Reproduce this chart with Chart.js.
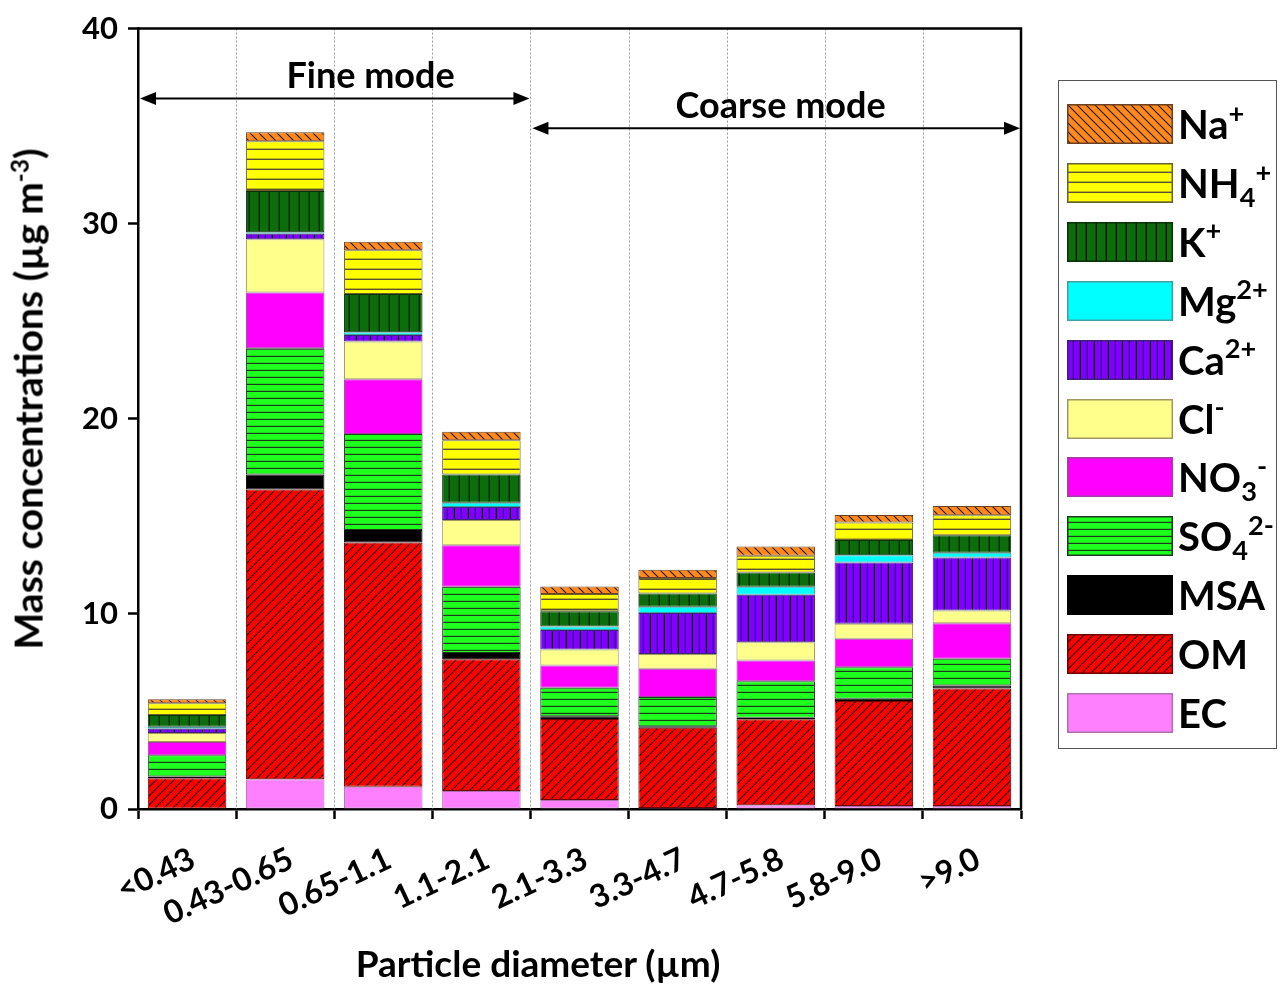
<!DOCTYPE html>
<html>
<head>
<meta charset="utf-8">
<script src="https://cdn.jsdelivr.net/npm/chart.js@4.4.1/dist/chart.umd.min.js"></script>
<style>
  html, body { margin: 0; padding: 0; background: #fff; }
  #wrap { position: relative; width: 1279px; height: 987px; font-family: Lato, "Open Sans", sans-serif; font-weight: 700; color: #000; }
  #chart { position: absolute; left: 0; top: 0; }
  .ytitle { position: absolute; left: 28px; top: 399px; transform: translate(-50%, -50%) rotate(-90deg); white-space: nowrap; font-size: 39px; line-height: 1.2; }
  .xtitle { position: absolute; left: 538px; top: 941px; transform: translateX(-50%); white-space: nowrap; font-size: 37px; line-height: 1.2; }
  #legendBox { position: absolute; left: 1058px; top: 80px; width: 219px; height: 669px; box-sizing: border-box; border: 1.5px solid #555; }
  .lrow { position: absolute; left: 1067px; height: 40px; display: flex; align-items: center; white-space: nowrap; }
  .lrow canvas { display: block; width: 106px; height: 40px; }
  .lrow .lab { margin-left: 5px; font-size: 40px; line-height: 40px; }
  sup, sub { font-size: 0.68em; line-height: 0; position: relative; vertical-align: baseline; }
  sup { top: -0.6em; }
  sub { top: 0.32em; }
  .ytitle sup { top: -0.6em; font-size: 0.62em; }
</style>
</head>
<body>
<div id="wrap">
  <canvas id="chart" width="1279" height="987"></canvas>
  <div class="ytitle">Mass concentrations (µg m<sup>-3</sup>)</div>
  <div class="xtitle">Particle diameter (µm)</div>
  <div id="legendBox"></div>
</div>
<script>
// Size-resolved aerosol composition, µg m-3
const categories = ['<0.43', '0.43-0.65', '0.65-1.1', '1.1-2.1', '2.1-3.3', '3.3-4.7', '4.7-5.8', '5.8-9.0', '>9.0'];
const EC  = [0.02, 1.52, 1.14, 0.92, 0.46, 0.05, 0.19, 0.15, 0.15];
const OM  = [1.56, 14.86, 12.52, 6.76, 4.15, 4.12, 4.41, 5.38, 6.02];
const MSA = [0.08, 0.77, 0.64, 0.32, 0.14, 0.07, 0.08, 0.12, 0.16];
const SO4 = [1.10, 6.47, 4.92, 3.39, 1.47, 1.50, 1.87, 1.62, 1.37];
const NO3 = [0.68, 2.86, 2.81, 2.13, 1.14, 1.45, 1.06, 1.45, 1.82];
const Cl  = [0.45, 2.72, 1.93, 1.29, 0.81, 0.76, 0.94, 0.77, 0.65];
const Ca  = [0.22, 0.29, 0.34, 0.67, 1.01, 2.10, 2.43, 3.14, 2.72];
const Mg  = [0.11, 0.07, 0.13, 0.22, 0.18, 0.32, 0.41, 0.38, 0.24];
const K   = [0.60, 2.11, 1.97, 1.45, 0.77, 0.68, 0.73, 0.78, 0.90];
const NH4 = [0.60, 2.56, 2.24, 1.75, 0.89, 0.79, 0.86, 0.89, 1.02];
const Na  = [0.20, 0.46, 0.43, 0.43, 0.39, 0.42, 0.47, 0.39, 0.48];
const yTicks = [0, 10, 20, 30, 40];

// Hatch tile: background colour plus one line per tile
function hatchTile(bg, line, kind, step, lw) {
  const c = document.createElement('canvas');
  c.width = step; c.height = step;
  const g = c.getContext('2d');
  g.fillStyle = bg;
  g.fillRect(0, 0, step, step);
  if (kind) {
    g.strokeStyle = line;
    g.lineWidth = lw;
    g.beginPath();
    if (kind === 'h') { g.moveTo(0, step - lw / 2); g.lineTo(step, step - lw / 2); }
    else if (kind === 'v') { g.moveTo(step - lw / 2, 0); g.lineTo(step - lw / 2, step); }
    else if (kind === '/') {
      g.moveTo(-2, step + 2); g.lineTo(step + 2, -2);
      g.moveTo(-2, 2); g.lineTo(2, -2);
      g.moveTo(step - 2, step + 2); g.lineTo(step + 2, step - 2);
    } else if (kind === '\\') {
      g.moveTo(-2, -2); g.lineTo(step + 2, step + 2);
      g.moveTo(step - 2, -2); g.lineTo(step + 2, 2);
      g.moveTo(-2, step - 2); g.lineTo(2, step + 2);
    }
    g.stroke();
  }
  return c;
}

// Stack order, bottom to top
const series = [
  { key: 'EC',  html: 'EC',                          values: EC,  tile: hatchTile('#ff80ff', null, null, 8, 1),         edge: '#b070b0' },
  { key: 'OM',  html: 'OM',                          values: OM,  tile: hatchTile('#ff0000', '#2a0000', '/', 9, 1.1),   edge: '#700000' },
  { key: 'MSA', html: 'MSA',                         values: MSA, tile: hatchTile('#000000', null, null, 8, 1),         edge: '#000000' },
  { key: 'SO4', html: 'SO<sub>4</sub><sup>2-</sup>', values: SO4, tile: hatchTile('#1eff1e', '#1d3a1d', 'h', 7, 1.2),   edge: '#1d3a1d' },
  { key: 'NO3', html: 'NO<sub>3</sub><sup>-</sup>',  values: NO3, tile: hatchTile('#ff00ff', null, null, 8, 1),         edge: '#a040a0' },
  { key: 'Cl',  html: 'Cl<sup>-</sup>',              values: Cl,  tile: hatchTile('#ffff8c', null, null, 8, 1),         edge: '#a09860' },
  { key: 'Ca',  html: 'Ca<sup>2+</sup>',             values: Ca,  tile: hatchTile('#7f00ff', '#1a0033', 'v', 7, 1.2),   edge: '#40207a' },
  { key: 'Mg',  html: 'Mg<sup>2+</sup>',             values: Mg,  tile: hatchTile('#00ffff', null, null, 8, 1),         edge: '#40a0a0' },
  { key: 'K',   html: 'K<sup>+</sup>',               values: K,   tile: hatchTile('#0b6e0b', '#0a1a0a', 'v', 10, 1.4),  edge: '#0a300a' },
  { key: 'NH4', html: 'NH<sub>4</sub><sup>+</sup>',  values: NH4, tile: hatchTile('#ffff00', '#5a5030', 'h', 10, 1.4),  edge: '#6a6030' },
  { key: 'Na',  html: 'Na<sup>+</sup>',              values: Na,  tile: hatchTile('#ff8a1e', '#2a1400', '\\', 9, 1.1),  edge: '#6a4020' }
];

const canvas = document.getElementById('chart');
const ctx = canvas.getContext('2d');

// Dotted separators between size bins, plus top and right frame lines
const framePlugin = {
  id: 'frame',
  beforeDatasetsDraw(chart) {
    const { ctx, chartArea, scales } = chart;
    const xs = scales.x;
    ctx.save();
    ctx.strokeStyle = '#9a9a9a';
    ctx.lineWidth = 1;
    ctx.setLineDash([2, 2]);
    for (let i = 0; i < categories.length - 1; i++) {
      const x = Math.round(xs.getPixelForValue(i + 0.5)) + 0.5;
      ctx.beginPath();
      ctx.moveTo(x, chartArea.top);
      ctx.lineTo(x, chartArea.bottom);
      ctx.stroke();
    }
    ctx.restore();
  },
  afterDatasetsDraw(chart) {
    const { ctx, chartArea } = chart;
    ctx.save();
    ctx.strokeStyle = '#000';
    ctx.lineWidth = 2.5;
    ctx.beginPath();
    ctx.moveTo(chartArea.left, chartArea.top);
    ctx.lineTo(chartArea.right, chartArea.top);
    ctx.lineTo(chartArea.right, chartArea.bottom);
    ctx.stroke();
    ctx.restore();
  }
};

// Fine / coarse mode arrows and captions, placed in data units
const modes = [
  { text: 'Fine mode',   from: -0.5, to: 3.5, arrowY: 36.42, textX: 1.87, textY: 37.55 },
  { text: 'Coarse mode', from: 3.5,  to: 8.5, arrowY: 34.89, textX: 6.05, textY: 36.0 }
];

function arrowHead(ctx, x, y, dir) {
  const len = 16, half = 6.5;
  ctx.beginPath();
  ctx.moveTo(x, y);
  ctx.lineTo(x - dir * len, y - half);
  ctx.lineTo(x - dir * len, y + half);
  ctx.closePath();
  ctx.fill();
}

const modePlugin = {
  id: 'modes',
  afterDraw(chart) {
    const { ctx, scales } = chart;
    const xs = scales.x, ys = scales.y;
    ctx.save();
    ctx.strokeStyle = '#000';
    ctx.fillStyle = '#000';
    ctx.lineWidth = 2;
    modes.forEach(m => {
      const x1 = xs.getPixelForValue(m.from) + 2;
      const x2 = xs.getPixelForValue(m.to) - 1;
      const y = ys.getPixelForValue(m.arrowY);
      ctx.beginPath();
      ctx.moveTo(x1 + 10, y);
      ctx.lineTo(x2 - 10, y);
      ctx.stroke();
      arrowHead(ctx, x1, y, -1);
      arrowHead(ctx, x2, y, 1);
      ctx.font = 'bold 36px Lato, "Open Sans", sans-serif';
      ctx.textAlign = 'center';
      ctx.textBaseline = 'middle';
      ctx.fillText(m.text, xs.getPixelForValue(m.textX), ys.getPixelForValue(m.textY));
    });
    ctx.restore();
  }
};

const axisFont = { family: 'Lato, "Open Sans", sans-serif', weight: 'bold' };

new Chart(ctx, {
  type: 'bar',
  data: {
    labels: categories,
    datasets: series.map(s => ({
      label: s.key,
      data: s.values,
      backgroundColor: ctx.createPattern(s.tile, 'repeat'),
      borderColor: s.edge,
      borderWidth: 1,
      borderSkipped: false,
      barPercentage: 0.8,
      categoryPercentage: 1.0
    }))
  },
  options: {
    responsive: false,
    animation: false,
    events: [],
    layout: { padding: { left: 58, right: 258, top: 26, bottom: 0 } },
    plugins: { legend: { display: false }, tooltip: { enabled: false } },
    scales: {
      x: {
        stacked: true,
        grid: { display: true, drawOnChartArea: false, offset: true, tickLength: 10, tickWidth: 2.5, tickColor: '#000', color: '#000' },
        border: { display: true, color: '#000', width: 2.5 },
        ticks: { color: '#000', font: { ...axisFont, size: 32 }, minRotation: 25, maxRotation: 25, autoSkip: false, padding: 21, labelOffset: 6 },
        afterFit(scale) { scale.height = 178; }
      },
      y: {
        stacked: true,
        min: 0,
        max: 40,
        grid: { display: true, drawOnChartArea: false, tickLength: 10, tickWidth: 2.5, tickColor: '#000', color: '#000' },
        border: { display: true, color: '#000', width: 2.5 },
        ticks: { color: '#000', font: { ...axisFont, size: 31 }, padding: 10 },
        afterBuildTicks(scale) { scale.ticks = yTicks.map(v => ({ value: v })); },
        afterFit(scale) { scale.width = 80; }
      }
    }
  },
  plugins: [framePlugin, modePlugin]
});

// Legend: top entry is the top of the stack
const wrap = document.getElementById('wrap');
series.slice().reverse().forEach((s, i) => {
  const row = document.createElement('div');
  row.className = 'lrow';
  row.style.top = (104 + i * 58.9) + 'px';
  const sw = document.createElement('canvas');
  sw.width = 106; sw.height = 40;
  const g = sw.getContext('2d');
  g.fillStyle = g.createPattern(s.tile, 'repeat');
  g.fillRect(0, 0, 106, 40);
  g.strokeStyle = s.edge;
  g.lineWidth = 1.5;
  g.strokeRect(0.75, 0.75, 104.5, 38.5);
  const lab = document.createElement('span');
  lab.className = 'lab';
  lab.innerHTML = s.html;
  row.appendChild(sw);
  row.appendChild(lab);
  wrap.appendChild(row);
});
</script>
</body>
</html>
